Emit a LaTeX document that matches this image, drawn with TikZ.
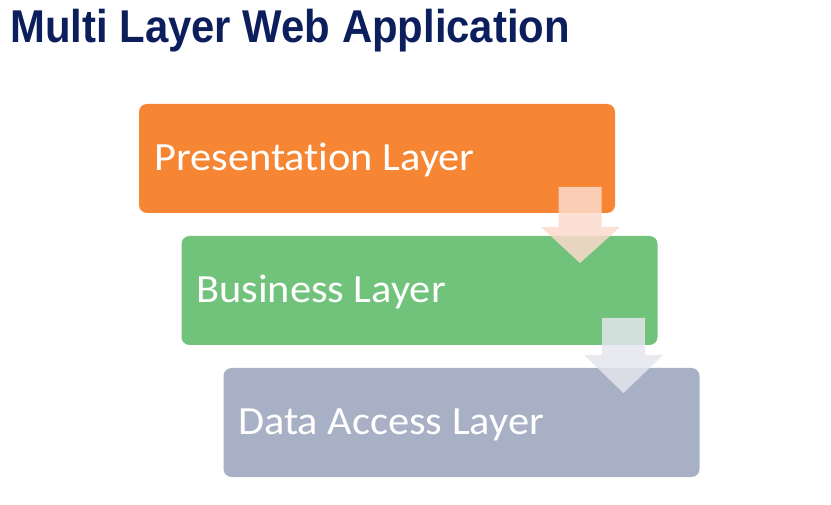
\documentclass[tikz,border=0pt]{standalone}
\usepackage{fontspec}
\setmainfont[Ligatures={NoCommon}]{Carlito}
\newfontfamily\titlefont{Liberation Sans}
\definecolor{presorange}{HTML}{F68634}
\definecolor{busgreen}{HTML}{71C27B}
\definecolor{datagray}{HTML}{A8B0C6}
\definecolor{titlenavy}{HTML}{0C1F5C}
\definecolor{arrowpeach}{HTML}{FCDACB}
\definecolor{arrowgray}{HTML}{E4E6EC}
\begin{document}
\begin{tikzpicture}[x=1pt,y=-1pt,
  layerbox/.style={draw=none,rounded corners=8pt,minimum width=476pt,minimum height=109pt,inner sep=0pt},
  layertext/.style={anchor=base west,text=white,font=\fontsize{40}{48}\selectfont,inner sep=0pt,xscale=1.06},
  blockarrow/.style={draw=none,fill opacity=0.85},
  titletext/.style={anchor=base west,inner sep=0pt,font=\titlefont\bfseries\fontsize{46}{54}\selectfont,xscale=0.91}]
\useasboundingbox (0,0) rectangle (831,505);
% title
\node[titletext,text=titlenavy] (title) at (10,43) {Multi Layer Web Application};
% layers
\node[layerbox,fill=presorange] (pres) at (377,158.5) {};
\node[layerbox,fill=busgreen] (bus) at (419.5,290.5) {};
\node[layerbox,fill=datagray] (data) at (461.5,422.5) {};
\node[layertext] (prestext) at (154,171) {Presentation Layer};
\node[layertext] (bustext) at (196,303) {Business Layer};
\node[layertext] (datatext) at (238,435) {Data Access Layer};
% arrows
\coordinate (a1top) at (580,187);
\coordinate (a1tip) at (580,263);
\fill[blockarrow,arrowpeach] ([xshift=-21.5pt]a1top) -- ([xshift=21.5pt]a1top) -- ([xshift=21.5pt]a1top |- 0,227) -- (620,227) -- (a1tip) -- (541,227) -- ([xshift=-21.5pt]a1top |- 0,227) -- cycle;
\coordinate (a2top) at (623.5,318);
\coordinate (a2tip) at (623.5,393);
\fill[blockarrow,arrowgray] ([xshift=-21.5pt]a2top) -- ([xshift=21.5pt]a2top) -- ([xshift=21.5pt]a2top |- 0,355) -- (663,355) -- (a2tip) -- (584,355) -- ([xshift=-21.5pt]a2top |- 0,355) -- cycle;
\end{tikzpicture}
\end{document}
